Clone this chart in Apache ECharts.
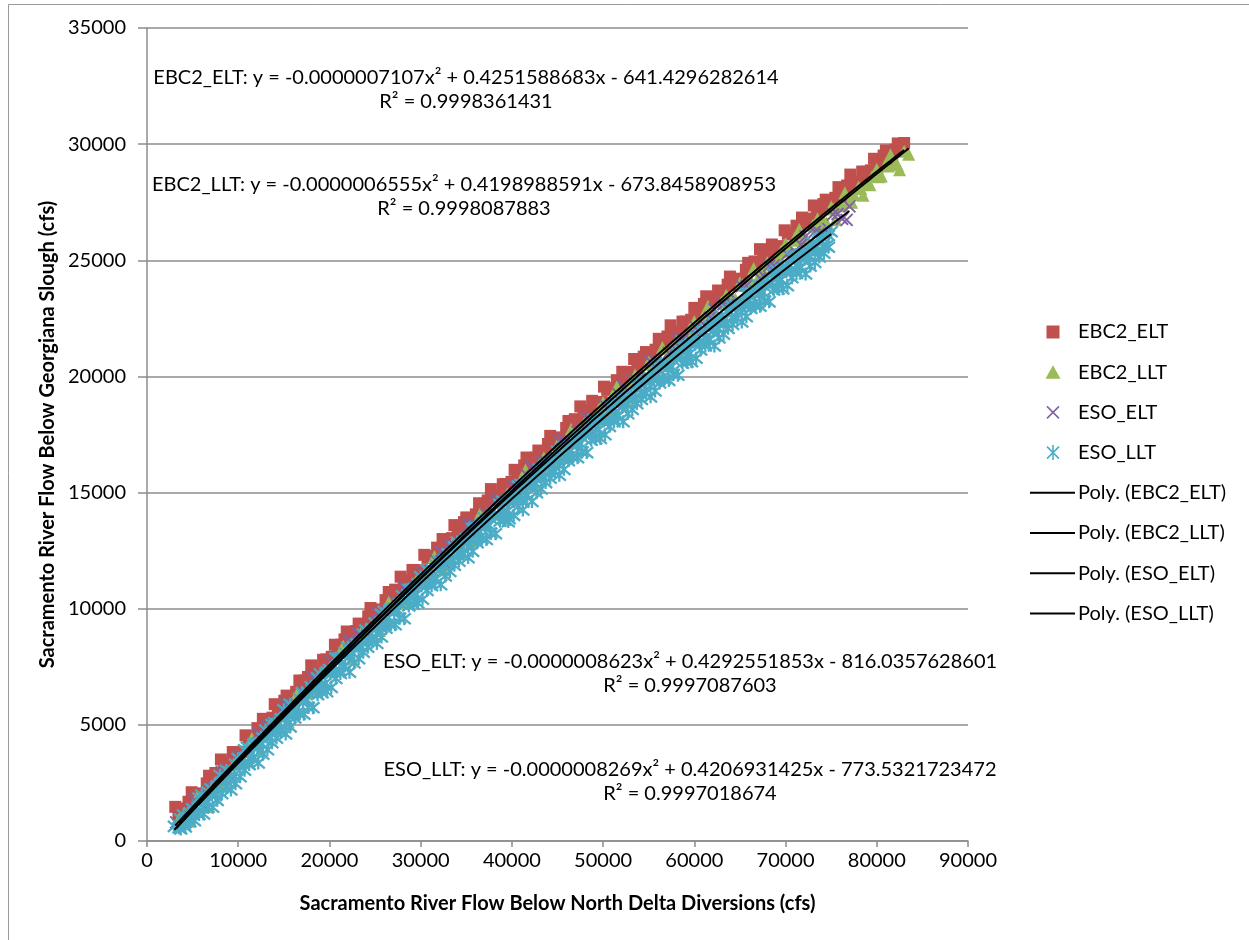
<!DOCTYPE html>
<html>
<head>
<meta charset="utf-8">
<script src="https://cdn.jsdelivr.net/npm/echarts@6/dist/echarts.min.js"></script>
<style>
html, body { margin: 0; padding: 0; background: #fff; }
#chart { width: 1249px; height: 940px; }
</style>
</head>
<body>
<div id="chart"></div>
<script>
// Daily flow pairs: [Sacramento R. below North Delta Diversions, Sacramento R. below Georgiana Slough] (cfs)
const seriesNames = ['EBC2_ELT', 'EBC2_LLT', 'ESO_ELT', 'ESO_LLT'];

const ebc2Elt = [
  [3100,1470],[3600,1400],[4200,1340],[4900,2100],[5500,2020],[6200,2050],[6800,2810],[7500,2930],[8100,3510],[8800,3290],
  [9400,3830],[10100,3730],[10800,4550],[11400,4490],[12100,4860],[12700,5260],[13400,5120],[14000,5890],[14700,5780],[15300,6260],
  [16000,6100],[16700,6910],[17300,6910],[18000,7560],[18600,7310],[19300,7800],[19900,7720],[20600,8450],[21300,8450],[21900,9020],
  [22600,8840],[23200,9360],[23900,9320],[24500,10030],[25200,9970],[25800,9940],[26500,10720],[27200,10820],[27800,11380],[28500,11140],
  [29100,11670],[29800,11550],[30400,12320],[31100,12270],[31800,12630],[32400,13000],[33100,12850],[33700,13600],[34400,13470],[35000,13930],
  [35700,13750],[36400,14540],[37000,14520],[37700,15150],[38300,14890],[39000,15360],[39600,15260],[40300,15980],[41000,15950],[41600,16510],
  [42300,16310],[42900,16810],[43600,16750],[44200,17440],[44900,17370],[45600,17360],[46200,18080],[46900,18160],[47500,18710],[48200,18450],
  [48800,18950],[49500,18810],[50100,19560],[50800,19500],[51500,19840],[52100,20200],[52800,20020],[53400,20750],[54100,20610],[54700,21050],
  [55400,20850],[56100,21620],[56700,21590],[57400,22200],[58000,21910],[58700,22360],[59300,22250],[60000,22950],[60700,22910],[61300,23450],
  [62000,23220],[62600,23700],[63300,23630],[63900,24300],[64600,24210],[65300,24180],[65900,24890],[66600,24950],[67200,25480],[67900,25200],
  [68500,25680],[69200,25520],[69900,26290],[70500,26180],[71200,26490],[71800,26840],[72500,26640],[73100,27360],[73800,27190],[74400,27610],
  [75100,27400],[75800,28150],[76400,28100],[77100,28690],[77700,28390],[78400,28820],[79000,28690],[79700,29370],[80400,29310],[81000,29730],
  [81700,29590],[82300,30030],[83000,30050],
  [3450,1110],[3950,1140],[4550,1690],[5250,1770],[5850,1870],[6550,2480],[7150,2600],[7850,2790],[8450,3340],[9150,3270],
  [9750,3730],[10450,3840],[11150,4430],[11750,4450],[12450,4600],[13050,5160],[13750,5310],[14350,5460],[15050,6040],[15650,5930],
  [16350,6420],[17050,6520],[17650,7060],[18350,7120],[18950,7220],[19650,7820],[20250,7930],[20950,8100],[21650,8680],[22250,8560],
  [22950,9040],[23550,9100],[24250,9670],[24850,9690],[25550,9820],[26150,10370],[26850,10510],[27550,10680],[28150,11220],[28850,11130],
  [29450,11570],[30150,11660],[30750,12190],[31450,12230],[32150,12360],[32750,12900],[33450,13040],[34050,13170],[34750,13730],[35350,13600],
  [36050,14060],[36750,14140],[37350,14660],[38050,14700],[38650,14790],[39350,15370],[39950,15460],[40650,15620],[41350,16170],[41950,16030],
  [42650,16500],[43250,16540],[43950,17090],[44550,17090],[45250,17210],[45950,17780],[46550,17860],[47250,18010],[47850,18530],[48550,18420],
  [49150,18830],[49850,18900],[50450,19420],[51150,19440],[51850,19550],[52450,20080],[53150,20190],[53750,20300],[54450,20850],[55050,20700],
  [55750,21150],[56450,21210],[57050,21720],[57750,21740],[58350,21800],[59050,22360],[59650,22440],[60350,22580],[61050,23120],[61650,22960],
  [62350,23400],[62950,23420],[63650,23950],[64250,23940],[64950,24030],[65650,24590],[66250,24650],[66950,24780],[67550,25280],[68250,25150],
  [68850,25560],[69550,25610],[70250,26140],[70850,26110],[71550,26190],[72150,26710],[72850,26800],[73450,26900],[74150,27420],[74750,27260],
  [75450,27690],[76150,27730],[76750,28220],[77450,28220],[78050,28270],[78750,28810],[79350,28870],[80050,28990],[80750,29510],[81350,29330],
  [82050,29760],[82650,29760]
];

const ebc2Llt = [
  [3500,940],[4500,850],[5500,1910],[6500,1470],[7500,2330],[8500,2390],[9500,3300],[10500,3410],[11500,4410],[12500,3870],
  [13500,5020],[14500,4930],[15500,5130],[16500,6370],[17500,6370],[18500,6420],[19500,7310],[20500,7410],[21500,8400],[22500,7840],
  [23500,8980],[24500,8870],[25500,9060],[26500,10290],[27500,10270],[28500,10310],[29500,11190],[30500,11270],[31500,12250],[32500,11680],
  [33500,12800],[34500,12680],[35500,12860],[36500,14080],[37500,14050],[38500,14070],[39500,14940],[40500,15010],[41500,15970],[42500,15380],
  [43500,16500],[44500,16360],[45500,16520],[46500,17730],[47500,17690],[48500,17700],[49500,18550],[50500,18610],[51500,19560],[52500,18960],
  [53500,20060],[54500,19910],[55500,20060],[56500,21250],[57500,21200],[58500,21190],[59500,22040],[60500,22080],[61500,23020],[62500,22410],
  [63500,23490],[64500,23330],[65500,23470],[66500,24650],[67500,24580],[68500,24560],[69500,25390],[70500,25420],[71500,26340],[72500,25720],
  [73500,26790],[74500,26620],[75500,26740],[76500,27910],[77500,27830],[78500,27800],[79500,28610],[80500,28630],[81500,29540],[82500,28900],
  [83500,29570],
  [41000,15560],[42000,15600],[43000,16200],[44000,16250],[45000,17070],[46000,17160],[47000,17360],[48000,18030],[49000,18170],[50000,18880],
  [51000,19150],[52000,19180],[53000,19770],[54000,19810],[55000,20620],[56000,20690],[57000,20880],[58000,21530],[59000,21670],[60000,22360],
  [61000,22620],[62000,22640],[63000,23200],[64000,23230],[65000,24030],[66000,24090],[67000,24260],[68000,24900],[69000,25030],[70000,25710],
  [71000,25950],[72000,25960],[73000,26510],[74000,26530],[75000,27310],[76000,27360],[77000,27520],[78000,28150],[79000,28260],[80000,28920],
  [81000,29160],[82000,29150],[83000,29690],
  [50250,18570],[51250,19070],[52250,19150],[53250,19700],[54250,19910],[55250,20520],[56250,20690],[57250,20860],[58250,21480],[59250,21660],
  [60250,22050],[61250,22530],[62250,22600],[63250,23140],[64250,23340],[65250,23930],[66250,24080],[67250,24250],[68250,24850],[69250,25020],
  [70250,25390],[71250,25860],[72250,25920],[73250,26440],[74250,26630],[75250,27210],[76250,27350],[77250,27500],[78250,28090],[79250,28250],
  [80250,28600],[81250,29060],[82250,29110]
];

const esoElt = [
  [3200,800],[4200,820],[5200,1770],[6200,1510],[7200,2320],[8200,2960],[9200,2610],[10200,3670],[11200,3830],[12200,4640],
  [13200,4950],[14200,4950],[15200,5890],[16200,5610],[17200,6410],[18200,7030],[19200,6660],[20200,7700],[21200,7840],[22200,8630],
  [23200,8920],[24200,8910],[25200,9830],[26200,9540],[27200,10320],[28200,10920],[29200,10530],[30200,11560],[31200,11680],[32200,12460],
  [33200,12730],[34200,12700],[35200,13610],[36200,13290],[37200,14050],[38200,14640],[39200,14230],[40200,15250],[41200,15350],[42200,16110],
  [43200,16360],[44200,16320],[45200,17200],[46200,16870],[47200,17620],[48200,18190],[49200,17760],[50200,18760],[51200,18850],[52200,19590],
  [53200,19830],[54200,19760],[55200,20630],[56200,20280],[57200,21010],[58200,21560],[59200,21120],[60200,22100],[61200,22170],[62200,22890],
  [63200,23110],[64200,23040],[65200,23890],[66200,23520],[67200,24230],[68200,24760],[69200,24310],[70200,25270],[71200,25320],[72200,26030],
  [73200,26230],[74200,26140],[75200,26970],[76200,26790],[77000,27320],
  [30700,11350],[31700,12070],[32700,11940],[33700,12720],[34700,12940],[35700,13660],[36700,13470],[37700,14140],[38700,14680],[39700,14620],
  [40700,15020],[41700,15730],[42700,15590],[43700,16340],[44700,16550],[45700,17250],[46700,17040],[47700,17690],[48700,18220],[49700,18140],
  [50700,18530],[51700,19220],[52700,19060],[53700,19790],[54700,19980],[55700,20670],[56700,20450],[57700,21080],[58700,21590],[59700,21490],
  [60700,21860],[61700,22530],[62700,22350],[63700,23080],[64700,23250],[65700,23910],[66700,23670],[67700,24290],[68700,24780],[69700,24660],
  [70700,25020],[71700,25670],[72700,25480],[73700,26180],[74700,26340],[75700,26990],[76700,26740]
];

const esoLlt = [
  [3000,630],[4000,1120],[5000,1390],[6000,1980],[7000,2250],[8000,2830],[9000,2980],[10000,3550],[11000,4030],[12000,4210],
  [13000,4780],[14000,5090],[15000,5650],[16000,5760],[17000,6380],[18000,6640],[19000,7200],[20000,7380],[21000,7880],[22000,8340],
  [23000,8490],[24000,9080],[25000,9380],[26000,9890],[27000,10030],[28000,10560],[29000,10860],[30000,11370],[31000,11480],[32000,12060],
  [33000,12360],[34000,12870],[35000,13020],[36000,13500],[37000,13900],[38000,14050],[39000,14630],[40000,14850],[41000,15360],[42000,15490],
  [43000,16010],[44000,16280],[45000,16780],[46000,16850],[47000,17420],[48000,17620],[49000,18130],[50000,18260],[51000,18720],[52000,19120],
  [53000,19230],[54000,19770],[55000,20010],[56000,20480],[57000,20560],[58000,21050],[59000,21300],[60000,21760],[61000,21820],[62000,22350],
  [63000,22600],[64000,23060],[65000,23160],[66000,23590],[67000,23940],[68000,24050],[69000,24570],[70000,24740],[71000,25200],[72000,25290],
  [73000,25760],[74000,25980],[75000,26230],
  [3500,570],[4500,900],[5500,1210],[6500,1740],[7500,1950],[8500,2590],[9500,2830],[10500,3330],[11500,3550],[12500,4220],
  [13500,4470],[14500,4790],[15500,5380],[16500,5530],[17500,6090],[18500,6580],[19500,6780],[20500,7300],[21500,7500],[22500,8110],
  [23500,8360],[24500,8690],[25500,9240],[26500,9370],[27500,9940],[28500,10400],[29500,10610],[30500,11080],[31500,11250],[32500,11870],
  [33500,12120],[34500,12380],[35500,12960],[36500,13070],[37500,13590],[38500,14060],[39500,14210],[40500,14720],[41500,14880],[42500,15440],
  [43500,15670],[44500,15950],[45500,16470],[46500,16580],[47500,17110],[48500,17540],[49500,17710],[50500,18150],[51500,18300],[52500,18880],
  [53500,19090],[54500,19330],[55500,19870],[56500,19940],[57500,20430],[58500,20870],[59500,20990],[60500,21460],[61500,21590],[62500,22110],
  [63500,22310],[64500,22560],[65500,23050],[66500,23120],[67500,23620],[68500,24020],[69500,24160],[70500,24560],[71500,24680],[72500,25230],
  [73500,25410],[74500,25630],
  [4200,600],[5200,870],[6200,1160],[7200,1450],[8200,2040],[9200,2200],[10200,2770],[11200,3290],[12200,3360],[13200,3930],
  [14200,4430],[15200,4610],[16200,5300],[17200,5460],[18200,5740],[19200,6380],[20200,6610],[21200,7210],[22200,7270],[23200,7850],
  [24200,8340],[25200,8500],[26200,9160],[27200,9310],[28200,9570],[29200,10190],[30200,10410],[31200,10990],[32200,11030],[33200,11600],
  [34200,12050],[35200,12200],[36200,12840],[37200,12980],[38200,13230],[39200,13820],[40200,14020],[41200,14590],[42200,14620],[43200,15160],
  [44200,15620],[45200,15750],[46200,16370],[47200,16500],[48200,16720],[49200,17310],[50200,17490],[51200,18050],[52200,18050],[53200,18580],
  [54200,19010],[55200,19120],[56200,19720],[57200,19830],[58200,20050],[59200,20610],[60200,20780],[61200,21310],[62200,21310],[63200,21820],
  [64200,22240],[65200,22340],[66200,22930],[67200,23020],[68200,23210],[69200,23770],[70200,23910],[71200,24430],[72200,24410],[73200,24910],
  [74200,25300],
  [3700,950],[4700,1210],[5700,1850],[6700,2110],[7700,2370],[8700,3040],[9700,3300],[10700,3930],[11700,4170],[12700,4430],
  [13700,5010],[14700,5260],[15700,5890],[16700,6130],[17700,6370],[18700,7020],[19700,7260],[20700,7880],[21700,8110],[22700,8350],
  [23700,8910],[24700,9150],[25700,9760],[26700,9980],[27700,10210],[28700,10840],[29700,11070],[30700,11670],[31700,11870],[32700,12100],
  [33700,12650],[34700,12860],[35700,13450],[36700,13660],[37700,13870],[38700,14490],[39700,14700],[40700,15280],[41700,15470],[42700,15680],
  [43700,16210],[44700,16410],[45700,16980],[46700,17180],[47700,17370],[48700,17970],[49700,18160],[50700,18730],[51700,18900],[52700,19090],
  [53700,19610],[54700,19790],[55700,20350],[56700,20530],[57700,20700],[58700,21290],[59700,21460],[60700,22020],[61700,22170],[62700,22350],
  [63700,22850],[64700,23010],[65700,23550],[66700,23710],[67700,23870],[68700,24440],[69700,24600],[70700,25130],[71700,25280],[72700,25440],
  [73700,25920],[74700,26070],
  [3700,520],[4700,830],[5700,1140],[6700,1450],[7700,1750],[8700,2320],[9700,2470],[10700,3050],[11700,3590],[12700,3740],
  [13700,4230],[14700,4750],[15700,4910],[16700,5470],[17700,5750],[18700,6300],[19700,6430],[20700,7000],[21700,7530],[22700,7660],
  [23700,8130],[24700,8640],[25700,8780],[26700,9320],[27700,9590],[28700,10120],[29700,10240],[30700,10790],[31700,11290],[32700,11410],
  [33700,11870],[34700,12350],[35700,12470],[36700,13000],[37700,13250],[38700,13770],[39700,13870],[40700,14400],[41700,14890],[42700,14990],
  [43700,15430],[44700,15900],[45700,16000],[46700,16520],[47700,16750],[48700,17250],[49700,17330],[50700,17850],[51700,18320],[52700,18400],
  [53700,18830],[54700,19280],[55700,19370],[56700,19870],[57700,20080],[58700,20570],[59700,20630],[60700,21140],[61700,21590],[62700,21660],
  [63700,22070],[64700,22500],[65700,22570],[66700,23050],[67700,23250],[68700,23720],[69700,23770],[70700,24250],[71700,24700],[72700,24750],
  [73700,25140],[74700,25560],
  [4100,690],[5100,1230],[6100,1430],[7100,1990],[8100,2520],[9100,2690],[10100,3240],[11100,3410],[12100,3980],[13100,4490],
  [14100,4740],[15100,5270],[16100,5450],[17100,5990],[18100,6500],[19100,6670],[20100,7200],[21100,7350],[22100,7900],[23100,8400],
  [24100,8630],[25100,9140],[26100,9310],[27100,9830],[28100,10330],[29100,10470],[30100,10990],[31100,11120],[32100,11660],[33100,12140],
  [34100,12350],[35100,12850],[36100,13000],[37100,13510],[38100,13990],[39100,14120],[40100,14620],[41100,14740],[42100,15260],[43100,15720],
  [44100,15920],[45100,16400],[46100,16530],[47100,17020],[48100,17480],[49100,17600],[50100,18080],[51100,18180],[52100,18680],[53100,19130],
  [54100,19310],[55100,19770],[56100,19890],[57100,20360],[58100,20810],[59100,20910],[60100,21380],[61100,21460],[62100,21950],[63100,22380],
  [64100,22540],[65100,22990],[66100,23090],[67100,23550],[68100,23980],[69100,24060],[70100,24500],[71100,24570],[72100,25050],[73100,25460],
  [74100,25610],
  [39600,13750],[41200,14250]
];

// Second-order polynomial trend coefficients [a, b, c] for y = a·x² + b·x + c, and R²
const coefEbc2Elt = [-0.0000007107, 0.4251588683, -641.4296282614];
const coefEbc2Llt = [-0.0000006555, 0.4198988591, -673.8458908953];
const coefEsoElt = [-0.0000008623, 0.4292551853, -816.0357628601];
const coefEsoLlt = [-0.0000008269, 0.4206931425, -773.5321723472];
const r2Values = ['0.9998361431', '0.9998087883', '0.9997087603', '0.9997018674'];

const xTickStep = 10000, xMax = 90000;
const yTickStep = 5000, yMax = 35000;

const colors = ['#C0504D', '#9BBB59', '#8064A2', '#4BACC6'];
const FONT = 'Lato, "Open Sans", sans-serif';
const FONT_SIZE = 20;
const GRID_GRAY = '#8c8c8c';

const pointSets = [ebc2Elt, ebc2Llt, esoElt, esoLlt];
const coefSets = [coefEbc2Elt, coefEbc2Llt, coefEsoElt, coefEsoLlt];

const xMarkPath = 'path://M0,0L10,10M10,0L0,10';
const starPath = 'path://M0,0L10,10M10,0L0,10M5,-1L5,11';
const symbols = ['rect', 'triangle', xMarkPath, starPath];
const symbolSizes = [12, 13, 12, 13];
const strokeWidths = [0, 0, 2, 2.3];

function trendPoints(points, coef) {
  const xs = points.map(p => p[0]);
  const lo = Math.min.apply(null, xs), hi = Math.max.apply(null, xs);
  const out = [];
  for (let x = lo; x <= hi; x += 500) out.push([x, coef[0] * x * x + coef[1] * x + coef[2]]);
  if (out[out.length - 1][0] !== hi) out.push([hi, coef[0] * hi * hi + coef[1] * hi + coef[2]]);
  return out;
}

function equationText(name, coef) {
  return name + ': y = ' + coef[0].toFixed(10) + 'x\u00B2 + ' + coef[1].toFixed(10) + 'x - ' + Math.abs(coef[2]).toFixed(10);
}

const scatterSeries = seriesNames.map((name, i) => {
  const stroked = i >= 2;
  return {
    name: name,
    type: 'scatter',
    data: pointSets[i],
    symbol: symbols[i],
    symbolSize: symbolSizes[i],
    large: false,
    itemStyle: stroked
      ? { color: 'rgba(0,0,0,0)', borderColor: colors[i], borderWidth: strokeWidths[i], opacity: 1 }
      : { color: colors[i], opacity: 1 },
    emphasis: { disabled: true },
    z: 2
  };
});

const trendSeries = seriesNames.map((name, i) => ({
  name: 'Poly. (' + name + ')',
  type: 'line',
  data: trendPoints(pointSets[i], coefSets[i]),
  showSymbol: false,
  smooth: false,
  lineStyle: { color: '#000', width: 2 },
  emphasis: { disabled: true },
  z: 3
}));

// Trendline equation annotations (center x, center y of the equation line)
const eqAnchors = [[466, 78], [464, 185], [690, 662], [690, 770]];
const eqGraphics = [];
seriesNames.forEach((name, i) => {
  const [cx, cy] = eqAnchors[i];
  eqGraphics.push({
    type: 'text', x: cx, y: cy,
    style: { text: equationText(name, coefSets[i]), font: FONT_SIZE + 'px ' + FONT, fill: '#000', textAlign: 'center', textVerticalAlign: 'middle' },
    z: 10
  });
  eqGraphics.push({
    type: 'text', x: cx, y: cy + 24,
    style: { text: 'R\u00B2 = ' + r2Values[i], font: FONT_SIZE + 'px ' + FONT, fill: '#000', textAlign: 'center', textVerticalAlign: 'middle' },
    z: 10
  });
});

// Legend drawn at the right of the plot
const legendGraphics = [];
const legendTop = 332, legendStep = 40.2, markX = 1053, textX = 1078;
const legendLabels = seriesNames.concat(seriesNames.map(n => 'Poly. (' + n + ')'));
function crossLines(cx, cy, r, color, withVertical) {
  const els = [
    { type: 'line', shape: { x1: cx - r, y1: cy - r, x2: cx + r, y2: cy + r }, style: { stroke: color, lineWidth: 1.6 } },
    { type: 'line', shape: { x1: cx + r, y1: cy - r, x2: cx - r, y2: cy + r }, style: { stroke: color, lineWidth: 1.6 } }
  ];
  if (withVertical) els.push({ type: 'line', shape: { x1: cx, y1: cy - r - 1.5, x2: cx, y2: cy + r + 1.5 }, style: { stroke: color, lineWidth: 1.6 } });
  return els;
}
legendLabels.forEach((label, i) => {
  const y = legendTop + i * legendStep;
  if (i === 0) {
    legendGraphics.push({ type: 'rect', shape: { x: markX - 6.5, y: y - 6.5, width: 13, height: 13 }, style: { fill: colors[0] } });
  } else if (i === 1) {
    legendGraphics.push({ type: 'polygon', shape: { points: [[markX, y - 7], [markX + 7.5, y + 6.5], [markX - 7.5, y + 6.5]] }, style: { fill: colors[1] } });
  } else if (i === 2) {
    crossLines(markX, y, 6, colors[2], false).forEach(e => legendGraphics.push(e));
  } else if (i === 3) {
    crossLines(markX, y, 6, colors[3], true).forEach(e => legendGraphics.push(e));
  } else {
    legendGraphics.push({ type: 'line', shape: { x1: 1030, y1: y, x2: 1075, y2: y }, style: { stroke: '#000', lineWidth: 2 } });
  }
  legendGraphics.push({
    type: 'text', x: textX, y: y,
    style: { text: label, font: FONT_SIZE + 'px ' + FONT, fill: '#000', textAlign: 'left', textVerticalAlign: 'middle' }
  });
});

const plainNumber = v => String(v);

const chart = echarts.init(document.getElementById('chart'), null, { renderer: 'canvas' });
chart.setOption({
  animation: false,
  backgroundColor: '#ffffff',
  grid: { left: 147, right: 281, top: 28, bottom: 99, containLabel: false, outerBoundsMode: 'none' },
  xAxis: {
    type: 'value', min: 0, max: xMax, interval: xTickStep,
    name: 'Sacramento River Flow Below North Delta Diversions (cfs)',
    nameLocation: 'middle', nameGap: 53,
    nameTextStyle: { fontFamily: FONT, fontSize: FONT_SIZE, fontWeight: 'bold', color: '#000' },
    axisLine: { show: true, onZero: false, lineStyle: { color: GRID_GRAY, width: 1.5 } },
    axisTick: { show: true, length: 6, lineStyle: { color: GRID_GRAY, width: 1.5 } },
    axisLabel: { fontFamily: FONT, fontSize: FONT_SIZE, color: '#000', margin: 10, formatter: plainNumber },
    splitLine: { show: false }
  },
  yAxis: {
    type: 'value', min: 0, max: yMax, interval: yTickStep,
    name: 'Sacramento River Flow Below Georgiana Slough (cfs)',
    nameLocation: 'middle', nameGap: 89,
    nameTextStyle: { fontFamily: FONT, fontSize: FONT_SIZE, fontWeight: 'bold', color: '#000' },
    axisLine: { show: true, onZero: false, lineStyle: { color: GRID_GRAY, width: 1.5 } },
    axisTick: { show: true, length: 9, lineStyle: { color: GRID_GRAY, width: 1.5 } },
    axisLabel: { fontFamily: FONT, fontSize: FONT_SIZE, color: '#000', margin: 21, formatter: plainNumber },
    splitLine: { show: true, lineStyle: { color: GRID_GRAY, width: 1.5 } }
  },
  legend: { show: false },
  tooltip: { show: false },
  series: scatterSeries.concat(trendSeries),
  graphic: [
    { type: 'rect', shape: { x: 8.5, y: 4.5, width: 1300, height: 1000 }, style: { fill: null, stroke: '#9a9a9a', lineWidth: 1 }, z: -10, silent: true }
  ].concat(eqGraphics, legendGraphics)
});
</script>
</body>
</html>
